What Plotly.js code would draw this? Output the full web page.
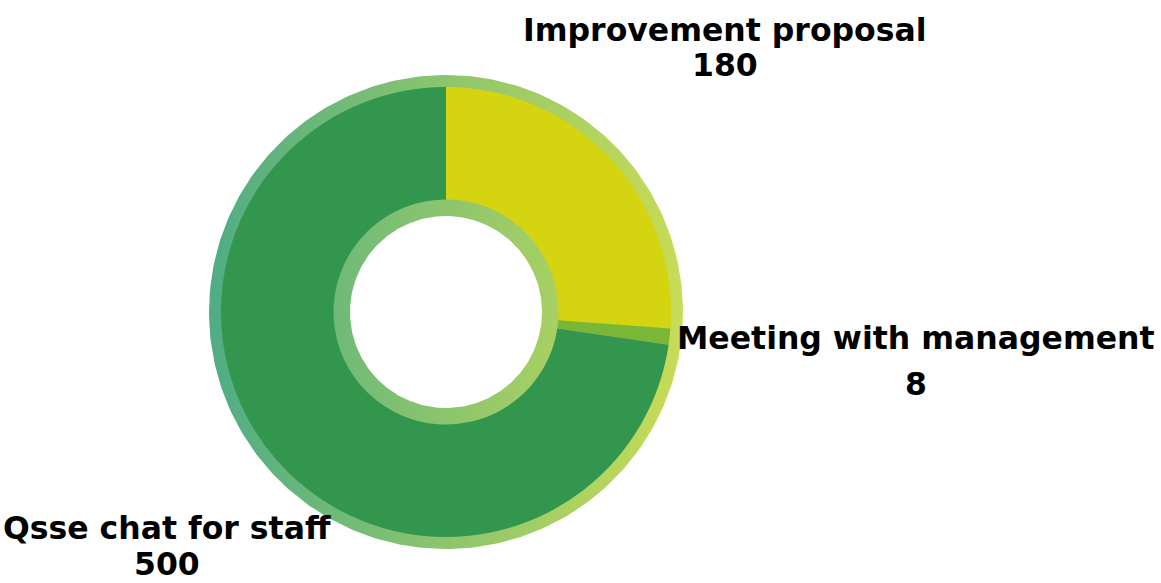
<!DOCTYPE html>
<html>
<head>
<meta charset="utf-8">
<script src="https://cdn.plot.ly/plotly-3.0.1.min.js"></script>
<style>html,body{margin:0;padding:0;background:#fff;}#chart{width:1161px;height:583px;}</style>
</head>
<body>
<div id="chart"></div>
<script>
// ---- data ----
const categories = ["Improvement proposal", "Meeting with management", "Qsse chat for staff"];
const values = [180, 8, 500];
const sliceColors = ["#d5d411", "#7bb736", "#32964f"];

// ---- decoration geometry (pixel units, hidden axes) ----
const W = 1161, H = 583;
const cx = 446, cy = 312;
const ringOuterR = 237, whiteR = 96;

function circle(r, n) {
  const xs = [], ys = [];
  for (let i = 0; i <= n; i++) {
    const a = 2 * Math.PI * i / n;
    xs.push(cx + r * Math.cos(a));
    ys.push(cy + r * Math.sin(a));
  }
  return {xs, ys};
}
const outerDisc = circle(ringOuterR, 360);
const innerDisc = circle(whiteR, 360);

const gradientScale = [[0, "#50ac85"], [0.5, "#8cc56d"], [1, "#c8dc57"]];

const traces = [
  {
    type: "scatter", mode: "lines", x: outerDisc.xs, y: outerDisc.ys,
    fill: "toself", line: {width: 0, color: "rgba(0,0,0,0)"},
    fillgradient: {type: "horizontal", colorscale: gradientScale, start: cx - ringOuterR, stop: cx + ringOuterR},
    hoverinfo: "skip", showlegend: false
  },
  {
    type: "scatter", mode: "lines", x: innerDisc.xs, y: innerDisc.ys,
    fill: "toself", fillcolor: "#ffffff", line: {width: 0, color: "rgba(0,0,0,0)"},
    hoverinfo: "skip", showlegend: false
  },
  {
    type: "pie", labels: categories, values: values,
    marker: {colors: sliceColors, line: {width: 0}},
    hole: 0.5, sort: false, direction: "clockwise", rotation: 0,
    textinfo: "none", hoverinfo: "label+value", showlegend: false,
    domain: {x: [(cx - 225) / W, (cx + 225) / W], y: [1 - (cy + 225) / H, 1 - (cy - 225) / H]}
  }
];

// label positions (pixels)
const labelPos = [
  {x: 725, y1: 30, y2: 65, a2: "middle"},
  {x: 916, y1: 338, y2: 384, a2: "middle"},
  {x: 167, y1: 528, y2: 583, a2: "bottom"}
];
const labelFont = {family: "DejaVu Sans", size: 31.5, color: "#000000", weight: 700};
const annotations = [];
categories.forEach((c, i) => {
  annotations.push({x: labelPos[i].x, y: labelPos[i].y1, xref: "x", yref: "y", text: "<b>" + c + "</b>",
    showarrow: false, font: labelFont, xanchor: "center", yanchor: "middle"});
  annotations.push({x: labelPos[i].x, y: labelPos[i].y2, xref: "x", yref: "y", text: "<b>" + values[i] + "</b>",
    showarrow: false, font: labelFont, xanchor: "center", yanchor: labelPos[i].a2, borderpad: 0});
});

const layout = {
  width: W, height: H,
  margin: {l: 0, r: 0, t: 0, b: 0},
  paper_bgcolor: "#ffffff", plot_bgcolor: "rgba(0,0,0,0)",
  xaxis: {range: [0, W], visible: false, fixedrange: true},
  yaxis: {range: [H, 0], visible: false, fixedrange: true},
  showlegend: false,
  annotations: annotations
};

Plotly.newPlot("chart", traces, layout, {displayModeBar: false, staticPlot: true});
</script>
</body>
</html>
